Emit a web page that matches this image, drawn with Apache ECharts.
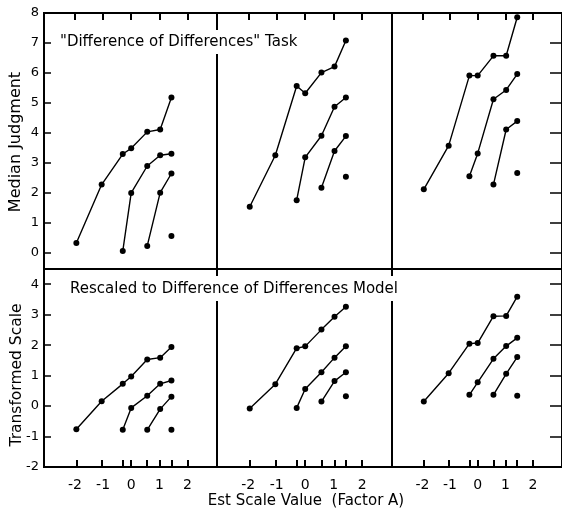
<!DOCTYPE html>
<html>
<head>
<meta charset="utf-8">
<script src="https://cdn.jsdelivr.net/npm/echarts@6/dist/echarts.min.js"></script>
<style>
  html, body { margin: 0; padding: 0; background: #fff; }
  #chart { width: 562px; height: 512px; }
</style>
</head>
<body>
<div id="chart"></div>
<script>
// est scale values of factor A (x positions of the points)
const xLevels = [-1.95, -1.05, -0.3, 0, 0.57, 1.03, 1.43];
const xLabelTicks = [-2, -1, 0, 1, 2];
const judgeTicks = [0, 1, 2, 3, 4, 5, 6, 7, 8];
const scaleTicks = [-2, -1, 0, 1, 2, 3, 4];

// top row: median judgments, one array per curve (longest first)
const judgeLeft = [
  [0.32, 2.27, 3.29, 3.48, 4.03, 4.11, 5.18],
  [0.05, 1.99, 2.89, 3.25, 3.3],
  [0.22, 2.0, 2.64],
  [0.55]
];
const judgeMid = [
  [1.53, 3.25, 5.56, 5.32, 6.01, 6.21, 7.08],
  [1.75, 3.18, 3.9, 4.87, 5.18],
  [2.16, 3.39, 3.89],
  [2.53]
];
const judgeRight = [
  [2.11, 3.57, 5.91, 5.91, 6.57, 6.57, 7.86],
  [2.55, 3.31, 5.12, 5.43, 5.96],
  [2.27, 4.11, 4.39],
  [2.66]
];

// bottom row: rescaled values
const scaleLeft = [
  [-0.76, 0.16, 0.73, 0.97, 1.53, 1.59, 1.94],
  [-0.78, -0.06, 0.34, 0.73, 0.84],
  [-0.78, -0.1, 0.31],
  [-0.78]
];
const scaleMid = [
  [-0.08, 0.72, 1.9, 1.96, 2.51, 2.93, 3.26],
  [-0.06, 0.56, 1.11, 1.59, 1.96],
  [0.15, 0.82, 1.11],
  [0.32]
];
const scaleRight = [
  [0.15, 1.08, 2.05, 2.07, 2.95, 2.96, 3.59],
  [0.37, 0.78, 1.55, 1.97, 2.24],
  [0.37, 1.06, 1.61],
  [0.34]
];

const panels = [judgeLeft, judgeMid, judgeRight, scaleLeft, scaleMid, scaleRight];

const FONT = 'DejaVu Sans';
const colLeft = [44, 217, 392];
const colWidth = [173, 175, 177];
const rowTop = [13, 269];
const rowHeight = [256, 198];

const grid = [], xAxis = [], yAxis = [], series = [];

panels.forEach((curves, i) => {
  const r = Math.floor(i / 3), c = i % 3;
  grid.push({
    left: colLeft[c], top: rowTop[r], width: colWidth[c], height: rowHeight[r],
    show: true, borderColor: '#000', borderWidth: 2
  });

  xAxis.push({
    gridIndex: i, type: 'value', min: -3.1, max: 3.05,
    position: r === 0 ? 'top' : 'bottom',
    axisLine: { show: false, onZero: false },
    splitLine: { show: false },
    axisTick: {
      show: true, inside: true, length: 7,
      lineStyle: { color: '#000', width: 2 },
      customValues: r === 0 ? xLabelTicks : xLevels.concat([2])
    },
    axisLabel: {
      show: r === 1, customValues: xLabelTicks, margin: 11,
      color: '#000', fontFamily: FONT, fontSize: 14
    }
  });

  const ticks = r === 0 ? judgeTicks : scaleTicks;
  yAxis.push({
    gridIndex: i, type: 'value',
    min: r === 0 ? -0.55 : -2, max: r === 0 ? 8 : 4.5,
    position: c === 2 ? 'right' : 'left',
    axisLine: { show: false, onZero: false },
    splitLine: { show: false },
    axisTick: {
      show: c !== 1, inside: true, length: c === 2 ? 12 : 7,
      lineStyle: { color: '#000', width: 1.5 },
      customValues: ticks
    },
    axisLabel: {
      show: c === 0, customValues: ticks, margin: 5,
      color: '#000', fontFamily: FONT, fontSize: 13
    }
  });

  curves.forEach(vals => {
    const off = xLevels.length - vals.length;
    series.push({
      type: 'line', xAxisIndex: i, yAxisIndex: i,
      data: vals.map((v, k) => [xLevels[off + k], v]),
      symbol: 'circle', symbolSize: 6,
      lineStyle: { color: '#000', width: 1.4 },
      itemStyle: { color: '#000' }
    });
  });
});

const chart = echarts.init(document.getElementById('chart'));
chart.setOption({
  animation: false,
  title: [
    {
      text: '"Difference of Differences" Task',
      left: 57, top: 30, padding: [5, 3, 4, 3], backgroundColor: '#fff',
      textStyle: { fontFamily: FONT, fontSize: 15, fontWeight: 'normal', color: '#000' }
    },
    {
      text: 'Rescaled to Difference of Differences Model',
      left: 67, top: 276, padding: [6, 3, 4, 3], backgroundColor: '#fff',
      textStyle: { fontFamily: FONT, fontSize: 15, fontWeight: 'normal', color: '#000' }
    }
  ],
  graphic: [
    {
      type: 'text', x: 16, y: 142, rotation: Math.PI / 2,
      style: { text: 'Median Judgment', fontFamily: FONT, fontSize: 16, fill: '#000', align: 'center', verticalAlign: 'middle' }
    },
    {
      type: 'text', x: 17, y: 375, rotation: Math.PI / 2,
      style: { text: 'Transformed Scale', fontFamily: FONT, fontSize: 15.5, fill: '#000', align: 'center', verticalAlign: 'middle' }
    },
    {
      type: 'text', x: 306, y: 501,
      style: { text: 'Est Scale Value  (Factor A)', fontFamily: FONT, fontSize: 15, fill: '#000', align: 'center', verticalAlign: 'middle' }
    }
  ],
  grid, xAxis, yAxis, series
});
</script>
</body>
</html>
